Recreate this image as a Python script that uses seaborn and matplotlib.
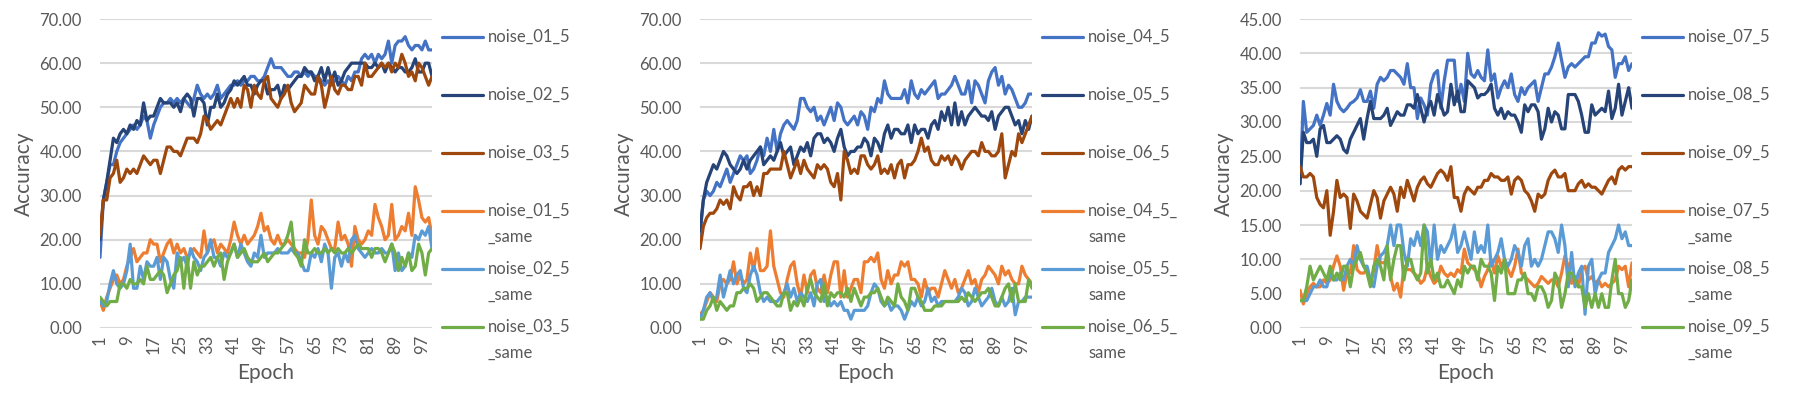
import matplotlib.pyplot as plt
import seaborn as sns
import numpy as np
import pandas as pd

epochs = list(range(1, 101))

# ---- panel 1 ----
noise_01_5 = [16, 29, 33, 37, 37, 40, 42, 43, 44, 45,
              46, 45, 46, 48, 47, 43, 46, 48, 50, 51,
              51, 52, 51, 52, 51, 52, 51, 50, 52, 55,
              53, 52, 53, 52, 53, 55, 52, 53, 54, 55,
              55, 56, 55, 56, 56, 57, 57, 56, 56, 57,
              59, 61, 59, 59, 59, 58, 57, 57, 58, 58,
              57, 58, 57, 58, 57, 57, 56, 55, 56, 55,
              56, 57, 56, 55, 57, 56, 58, 58, 61, 62,
              61, 62, 60, 62, 61, 62, 65, 60, 64, 65,
              65, 66, 64, 63, 64, 64, 63, 65, 63, 63]
noise_02_5 = [20, 29, 33, 38, 43, 42, 44, 45, 44, 46,
              45, 47, 46, 51, 47, 48, 48, 50, 52, 51,
              51, 51, 50, 51, 49, 52, 53, 52, 48, 52,
              52, 51, 46, 50, 50, 53, 50, 51, 53, 54,
              56, 55, 56, 57, 55, 55, 53, 55, 56, 56,
              53, 54, 54, 55, 52, 55, 54, 55, 56, 57,
              57, 59, 58, 58, 56, 57, 59, 56, 59, 56,
              58, 55, 56, 58, 59, 60, 60, 60, 60, 60,
              59, 59, 60, 59, 60, 58, 60, 59, 58, 59,
              59, 58, 58, 59, 61, 58, 58, 60, 60, 57]
noise_03_5 = [21, 29, 29, 34, 35, 38, 33, 34, 36, 35,
              36, 35, 37, 39, 38, 37, 38, 38, 35, 38,
              41, 41, 40, 40, 39, 41, 43, 43, 43, 42,
              44, 48, 47, 45, 46, 47, 46, 48, 50, 52,
              50, 52, 50, 55, 54, 50, 55, 53, 52, 56,
              57, 52, 51, 50, 52, 53, 55, 51, 49, 50,
              51, 55, 54, 53, 53, 57, 55, 50, 53, 57,
              54, 53, 55, 55, 54, 54, 57, 57, 55, 60,
              57, 57, 58, 59, 60, 59, 60, 58, 60, 59,
              62, 60, 57, 58, 56, 60, 59, 57, 55, 57]
noise_01_5_same = [6, 4, 7, 9, 11, 12, 10, 11, 14, 16,
                   18, 15, 16, 17, 17, 20, 19, 19, 15, 17,
                   19, 20, 17, 19, 17, 18, 16, 17, 18, 17,
                   16, 22, 17, 19, 20, 17, 19, 18, 17, 20,
                   24, 21, 19, 21, 19, 20, 21, 23, 26, 22,
                   23, 20, 19, 21, 19, 19, 20, 19, 18, 17,
                   17, 16, 20, 29, 21, 19, 23, 22, 20, 18,
                   18, 24, 20, 21, 19, 14, 23, 20, 19, 20,
                   22, 21, 28, 25, 23, 20, 21, 28, 20, 21,
                   23, 22, 26, 21, 32, 29, 25, 24, 25, 21]
noise_02_5_same = [6, 5, 6, 10, 13, 10, 9, 10, 13, 19,
                   9, 9, 14, 11, 15, 14, 14, 16, 11, 16,
                   15, 11, 9, 17, 15, 16, 14, 18, 16, 15,
                   13, 16, 17, 20, 16, 16, 14, 17, 16, 17,
                   19, 16, 19, 17, 15, 14, 17, 16, 21, 16,
                   17, 17, 17, 18, 17, 17, 17, 18, 17, 17,
                   15, 13, 13, 17, 16, 18, 15, 19, 17, 9,
                   16, 17, 14, 17, 15, 20, 21, 18, 17, 16,
                   17, 18, 17, 17, 18, 17, 17, 19, 13, 17,
                   13, 14, 17, 16, 21, 20, 22, 21, 23, 18]
noise_03_5_same = [7, 6, 5, 6, 6, 6, 10, 10, 9, 11,
                   10, 10, 11, 10, 14, 11, 11, 12, 13, 12,
                   8, 10, 12, 13, 16, 9, 16, 9, 15, 12,
                   14, 14, 15, 16, 14, 16, 17, 11, 15, 17,
                   19, 16, 17, 18, 16, 15, 15, 15, 16, 17,
                   15, 16, 17, 17, 18, 19, 21, 24, 17, 16,
                   14, 20, 17, 17, 18, 17, 17, 18, 17, 18,
                   17, 18, 17, 17, 18, 17, 18, 19, 18, 18,
                   18, 16, 18, 18, 17, 15, 17, 19, 17, 13,
                   16, 14, 17, 13, 14, 19, 17, 12, 17, 18]

# ---- panel 2 ----
noise_04_5 = [21, 29, 31, 30, 31, 33, 32, 34, 36, 33,
              35, 37, 39, 38, 39, 35, 36, 38, 41, 39,
              43, 40, 45, 40, 44, 46, 47, 46, 45, 47,
              52, 52, 50, 49, 50, 47, 48, 46, 48, 50,
              47, 51, 50, 47, 46, 47, 48, 46, 49, 48,
              45, 50, 49, 52, 51, 56, 53, 52, 52, 52,
              52, 54, 51, 56, 53, 52, 54, 53, 54, 55,
              56, 52, 53, 53, 54, 55, 57, 55, 53, 53,
              56, 51, 56, 55, 53, 51, 56, 58, 59, 55,
              57, 53, 55, 54, 52, 50, 50, 51, 53, 53]
noise_05_5 = [22, 29, 33, 35, 37, 36, 38, 40, 39, 37,
              36, 35, 36, 38, 36, 38, 39, 40, 41, 37,
              38, 39, 38, 40, 42, 39, 40, 41, 37, 39,
              41, 40, 42, 39, 43, 44, 44, 42, 43, 42,
              40, 43, 45, 41, 39, 40, 40, 41, 41, 43,
              42, 39, 43, 42, 40, 44, 46, 43, 45, 45,
              44, 44, 46, 42, 46, 44, 45, 45, 43, 46,
              47, 45, 49, 47, 50, 46, 51, 46, 49, 46,
              48, 49, 50, 49, 48, 48, 47, 49, 45, 48,
              49, 50, 50, 48, 46, 47, 44, 47, 45, 48]
noise_06_5 = [18, 23, 25, 26, 26, 27, 29, 28, 29, 27,
              32, 30, 29, 32, 32, 33, 30, 32, 30, 35,
              35, 36, 36, 36, 36, 40, 37, 34, 36, 38,
              35, 38, 36, 35, 34, 37, 36, 37, 36, 33,
              32, 35, 29, 40, 38, 35, 36, 35, 39, 39,
              37, 36, 37, 39, 35, 36, 35, 37, 34, 37,
              38, 34, 37, 37, 38, 40, 43, 40, 41, 38,
              37, 37, 39, 38, 39, 37, 39, 38, 36, 38,
              39, 40, 40, 39, 42, 40, 40, 39, 39, 40,
              44, 34, 37, 40, 39, 44, 42, 44, 46, 48]
noise_04_5_same = [3, 4, 6, 8, 7, 6, 10, 11, 10, 11,
                   15, 10, 12, 10, 11, 17, 13, 18, 13, 13,
                   14, 22, 14, 11, 8, 7, 11, 14, 15, 10,
                   7, 12, 8, 12, 13, 9, 8, 12, 8, 12,
                   15, 15, 7, 13, 7, 9, 11, 11, 8, 15,
                   15, 16, 15, 17, 11, 9, 13, 10, 12, 12,
                   15, 14, 15, 11, 11, 10, 7, 11, 8, 9,
                   9, 7, 10, 13, 11, 9, 11, 8, 9, 11,
                   13, 10, 11, 8, 11, 12, 14, 13, 12, 10,
                   14, 12, 13, 11, 10, 10, 14, 12, 11, 10]
noise_05_5_same = [2, 4, 7, 8, 6, 7, 12, 7, 10, 13,
                   10, 12, 13, 9, 8, 12, 14, 12, 8, 6,
                   7, 6, 6, 6, 7, 8, 10, 7, 9, 6,
                   8, 7, 6, 8, 5, 10, 11, 6, 7, 5,
                   6, 5, 6, 4, 4, 2, 4, 4, 4, 4,
                   5, 8, 10, 9, 6, 5, 6, 4, 5, 5,
                   4, 2, 4, 6, 5, 7, 5, 6, 9, 6,
                   7, 5, 6, 6, 6, 6, 6, 7, 9, 8,
                   5, 6, 9, 7, 5, 6, 7, 9, 6, 5,
                   7, 5, 6, 9, 3, 6, 6, 7, 7, 7]
noise_06_5_same = [2, 2, 4, 5, 7, 4, 6, 5, 4, 5,
                   5, 8, 8, 9, 9, 10, 9, 6, 7, 8,
                   8, 7, 6, 5, 5, 8, 8, 4, 6, 5,
                   7, 5, 9, 11, 8, 7, 6, 10, 5, 8,
                   7, 8, 8, 7, 9, 6, 9, 7, 5, 7,
                   7, 8, 8, 9, 7, 5, 7, 6, 5, 10,
                   7, 6, 4, 9, 9, 7, 6, 4, 4, 4,
                   5, 5, 5, 6, 6, 6, 6, 6, 7, 6,
                   8, 7, 6, 7, 8, 8, 9, 7, 5, 5,
                   7, 9, 10, 6, 10, 6, 6, 6, 11, 9]

# ---- panel 3 ----
noise_07_5 = [21, 33, 28.5, 29, 29.5, 31, 29.5, 31, 32.7, 31,
              35.5, 33, 32, 31.5, 32, 32.7, 33, 33.5, 34.7, 33,
              33, 34.5, 32, 35.5, 36.5, 36, 36.5, 37.5, 37.5, 37,
              36.5, 35.5, 38.5, 35, 35, 30.5, 33.5, 32.5, 31, 35.5,
              37, 37.5, 32, 36, 39, 39, 39, 33, 35.5, 33,
              40, 37, 36.5, 37.5, 36.5, 36, 40.5, 36, 37, 33.5,
              35, 36, 35, 37, 34, 33, 35, 34, 35, 35.5,
              36, 33, 35, 37, 37, 38, 39.5, 41.5, 39, 36.5,
              38, 38.5, 38, 38.5, 39, 39.5, 39.5, 41.5, 41.5, 43,
              42.5, 42.8, 41, 40.5, 36.5, 38.5, 38.5, 39.5, 37.5, 38.5]
noise_08_5 = [21, 28.5, 27, 27, 27.5, 25, 29, 29.5, 27, 27,
              27.5, 28, 27.5, 26, 25.5, 27.5, 28.5, 29.5, 30.5, 27.5,
              30.5, 33, 30.5, 30.5, 30.5, 31, 32, 29.5, 30.5, 31.5,
              31, 31, 32.5, 32.5, 32, 34, 32, 30, 32, 33,
              31, 34, 32.5, 31, 31.5, 35.5, 32.5, 34.5, 31.5, 31.5,
              36, 35.5, 35, 33.5, 34, 34, 34.5, 35.5, 32, 31,
              32, 30.5, 31.5, 31, 31, 30, 28.5, 32.5, 31.5, 32.5,
              32.5, 31.5, 27.5, 29, 32, 30, 31.5, 31, 29, 29,
              34, 34, 34, 33, 31, 28.5, 28.5, 32.5, 31, 31.5,
              32, 31.5, 34.5, 30.5, 32, 35.5, 31, 33, 35, 32]
noise_09_5 = [23.5, 22, 22, 22.5, 22, 19, 18, 17.5, 20, 13.5,
              17, 21.5, 19, 19.5, 19, 14.5, 19.5, 18.5, 17, 16.5,
              16, 18, 20, 19, 16, 18.5, 19.5, 20.5, 19.5, 17,
              20.5, 19, 21.5, 20, 18.5, 20.5, 21.5, 22, 21, 20.5,
              21.5, 22.5, 23, 22.5, 21.5, 23.5, 19, 19, 17, 19.5,
              20.5, 20, 19.5, 20.5, 20.5, 21.5, 21.5, 22.5, 22, 22,
              21.5, 21.5, 22, 19.5, 21.5, 22, 21.5, 20, 19.5, 18.5,
              17, 19.5, 19, 19.5, 21.5, 22.5, 23, 22, 22, 22.5,
              20, 20, 20, 21, 21.5, 20.5, 21, 20.5, 20.5, 20,
              19.5, 20.5, 21.5, 22, 21, 23, 23.5, 23, 23.5, 23.5]
noise_07_5_same = [5.5, 3.5, 5, 6, 6.5, 6, 6, 7, 6.5, 7,
                   9, 10.5, 9, 5.5, 8, 8, 12, 8.5, 8, 8,
                   8.5, 6.5, 8.5, 12, 9.5, 9.5, 10, 7.5, 5.5, 6.5,
                   4.5, 9, 8.5, 8.5, 8, 7.5, 6.5, 7, 9, 7.5,
                   6.5, 7, 9, 8, 7.5, 8, 7.5, 8.5, 8, 11.5,
                   9.5, 9, 8.5, 8, 6, 7.5, 8.5, 10, 8, 10.5,
                   9, 10, 8.5, 7.5, 9, 11.5, 8, 7.5, 7, 6.5,
                   6, 6.5, 7.5, 7, 6.5, 7, 7, 6, 8, 10.5,
                   9, 6.5, 7.5, 6, 8.5, 9, 7, 7.5, 6.5, 7,
                   6, 6.5, 6, 6.5, 7, 9, 8.5, 9, 6, 9.5]
noise_08_5_same = [4, 4, 4, 5, 6, 6, 7, 6, 6, 8,
                   7, 7, 8, 7, 9, 10, 9, 12, 10, 9,
                   9, 7, 6, 9, 10.5, 11, 12, 15, 12, 15,
                   15, 11, 9, 13, 12, 14, 12, 15, 14, 9,
                   15, 10, 12, 11, 12, 13, 15, 11, 12, 14,
                   12, 10, 14, 11, 12, 11, 15, 9, 10, 11,
                   13, 10, 9, 10, 12, 11, 9, 12, 13, 9,
                   10, 9, 10, 12, 14, 14, 13, 11, 15, 12,
                   6, 11, 6, 8, 9, 2, 9, 10, 5, 7,
                   8, 8, 11, 12, 13, 15, 13, 14, 12, 12]
noise_09_5_same = [4, 4, 6, 9, 7, 8, 9, 8, 7, 9,
                   7, 8, 7, 9, 9, 6, 9, 10, 11, 9,
                   8, 6, 9, 10, 9, 7, 12, 7, 10, 12,
                   12, 7, 10, 10, 8, 7, 8, 15, 8, 10,
                   7, 8, 6, 6, 7, 6, 5, 7, 6, 9,
                   8, 9, 9, 7, 10, 9, 9, 8, 4, 9,
                   8, 10, 5, 5, 5, 7, 7, 8, 5, 5,
                   4, 6, 6, 5, 3, 4, 8, 7, 3, 5,
                   8, 8, 7, 6, 6, 3, 5, 3, 5, 3,
                   5, 3, 3, 7, 10, 5, 5, 3, 4, 7]

colors = ["#4472C4", "#264478", "#9E480E", "#ED7D31", "#5B9BD5", "#70AD47"]

panels = [
    {"series": {"noise_01_5": noise_01_5, "noise_02_5": noise_02_5, "noise_03_5": noise_03_5,
                "noise_01_5_same": noise_01_5_same, "noise_02_5_same": noise_02_5_same,
                "noise_03_5_same": noise_03_5_same},
     "labels": ["noise_01_5", "noise_02_5", "noise_03_5",
                "noise_01_5\n_same", "noise_02_5\n_same", "noise_03_5\n_same"],
     "ymax": 70, "step": 10},
    {"series": {"noise_04_5": noise_04_5, "noise_05_5": noise_05_5, "noise_06_5": noise_06_5,
                "noise_04_5_same": noise_04_5_same, "noise_05_5_same": noise_05_5_same,
                "noise_06_5_same": noise_06_5_same},
     "labels": ["noise_04_5", "noise_05_5", "noise_06_5",
                "noise_04_5_\nsame", "noise_05_5_\nsame", "noise_06_5_\nsame"],
     "ymax": 70, "step": 10},
    {"series": {"noise_07_5": noise_07_5, "noise_08_5": noise_08_5, "noise_09_5": noise_09_5,
                "noise_07_5_same": noise_07_5_same, "noise_08_5_same": noise_08_5_same,
                "noise_09_5_same": noise_09_5_same},
     "labels": ["noise_07_5", "noise_08_5", "noise_09_5",
                "noise_07_5\n_same", "noise_08_5\n_same", "noise_09_5\n_same"],
     "ymax": 45, "step": 5},
]

sns.set_theme(style="white")
plt.rcParams["font.family"] = ["Lato", "DejaVu Sans"]
grey = "#595959"

W, H = 1800, 393
fig = plt.figure(figsize=(W / 100, H / 100), dpi=100)
lefts = [100, 700, 1300]
ax_w, ax_top, ax_bot = 332, 19, 328

for left, p in zip(lefts, panels):
    ax = fig.add_axes([left / W, 1 - ax_bot / H, ax_w / W, (ax_bot - ax_top) / H])
    df = pd.DataFrame(p["series"])
    df["Epoch"] = epochs
    long = df.melt(id_vars="Epoch", var_name="series", value_name="Accuracy")
    names = list(p["series"].keys())
    sns.lineplot(data=long, x="Epoch", y="Accuracy", hue="series", hue_order=names,
                 palette=colors, linewidth=2.3, legend=False, ax=ax)

    ax.set_xlim(1, 100)
    ax.set_ylim(0, p["ymax"])
    ax.set_yticks(np.arange(0, p["ymax"] + 0.1, p["step"]))
    ax.set_yticklabels([f"{v:.2f}" for v in ax.get_yticks()])
    ax.set_xticks(range(1, 101, 8))
    ax.tick_params(axis="y", length=0, pad=13, labelsize=12, labelcolor=grey)
    ax.tick_params(axis="x", length=0, pad=5, labelsize=12, labelcolor=grey, rotation=90)
    ax.grid(axis="y", color="#D9D9D9", linewidth=1.5)
    ax.set_axisbelow(True)
    for s in ax.spines.values():
        s.set_visible(False)

    ax.set_xlabel("Epoch", fontsize=15, color=grey)
    ax.set_ylabel("Accuracy", fontsize=15, color=grey)
    ax.xaxis.set_label_coords(0.5, -(363 - ax_bot) / (ax_bot - ax_top))
    ax.yaxis.set_label_coords(-(100 - 34) / ax_w, 0.5)

    labels = [l if "\n" in l else l + "\n " for l in p["labels"]]
    leg = ax.legend(ax.get_lines()[:6], labels, loc="upper left", bbox_to_anchor=(1.0, 1.0),
                    frameon=False, fontsize=12, handlelength=2.46, handletextpad=0.3,
                    labelspacing=0.95, borderaxespad=0, borderpad=0.6, labelcolor=grey)
    for t in leg.get_texts():
        t.set_linespacing(1.78)
    # put each legend line next to the first line of its label
    for h in leg.legend_handles:
        h.set_ydata(np.asarray(h.get_ydata()) + 9.6)
        h.set_linewidth(2.3)

fig.savefig("out.png", dpi=100)
